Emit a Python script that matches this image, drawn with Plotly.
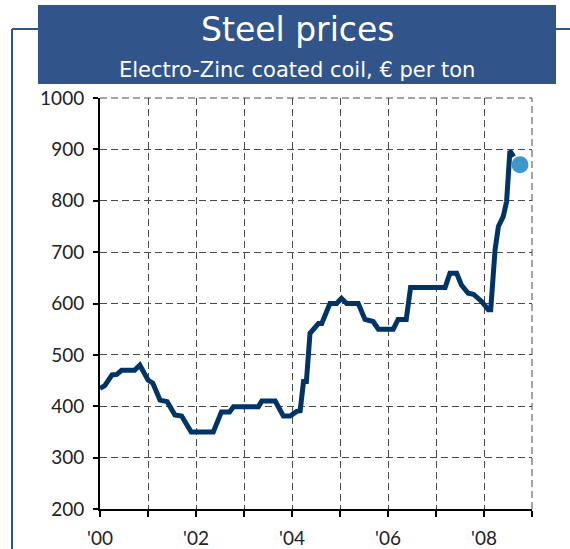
import plotly.graph_objects as go

# Electro-zinc coated coil price, EUR per ton (decimal year, price)
years = [2000.00, 2000.10, 2000.25, 2000.35, 2000.45, 2000.72, 2000.83, 2001.00,
         2001.10, 2001.25, 2001.40, 2001.56, 2001.70, 2001.90, 2002.36, 2002.53,
         2002.70, 2002.78, 2003.30, 2003.37, 2003.65, 2003.82, 2003.96, 2004.10,
         2004.17, 2004.24, 2004.30, 2004.375, 2004.55, 2004.62, 2004.79, 2004.93,
         2005.03, 2005.14, 2005.38, 2005.52, 2005.69, 2005.80, 2006.11, 2006.21,
         2006.38, 2006.47, 2007.19, 2007.29, 2007.43, 2007.53, 2007.67, 2007.78,
         2007.95, 2008.09, 2008.14, 2008.23, 2008.30, 2008.40, 2008.47, 2008.54,
         2008.62]
prices = [435, 440, 461, 462, 470, 470, 480, 451,
          445, 412, 409, 383, 381, 350, 350, 389,
          389, 399, 399, 410, 410, 381, 381, 390,
          391, 448, 448, 542, 561, 561, 600, 600,
          610, 600, 600, 569, 565, 550, 550, 569,
          569, 631, 631, 659, 659, 636, 620, 618,
          604, 588, 588, 704, 750, 769, 798, 897,
          886]

# Latest quoted price
latest_year = [2008.75]
latest_price = [870]

tick_years = list(range(2000, 2010))
tick_labels = ["'00", "", "'02", "", "'04", "", "'06", "", "'08", ""]
price_ticks = [200, 300, 400, 500, 600, 700, 800, 900, 1000]

NAVY = "#003466"
BANNER = "#31548A"
DOT = "#3D97C8"
GRID = "#4A4A4A"

fig = go.Figure()
fig.add_trace(go.Scatter(x=years, y=prices, mode="lines",
                         line=dict(color=NAVY, width=5), hoverinfo="skip"))
fig.add_trace(go.Scatter(x=latest_year, y=latest_price, mode="markers",
                         marker=dict(color=DOT, size=17), hoverinfo="skip"))

# plot area in pixels
L, R, T, B = 100, 532, 98, 509
W, H = R - L, B - T


def px(x):
    return (x - L) / W


def py(y):
    return (B - y) / H


shapes = [
    # title banner
    dict(type="rect", xref="paper", yref="paper", x0=px(38), x1=px(556),
         y0=py(84), y1=py(5), fillcolor=BANNER, line=dict(width=0), layer="below"),
    # frame lines
    dict(type="line", xref="paper", yref="paper", x0=px(12), x1=px(12),
         y0=py(29), y1=py(570), line=dict(color=BANNER, width=2)),
    dict(type="line", xref="paper", yref="paper", x0=px(12), x1=px(38),
         y0=py(29), y1=py(29), line=dict(color=BANNER, width=2)),
    dict(type="line", xref="paper", yref="paper", x0=px(556), x1=px(575),
         y0=py(29), y1=py(29), line=dict(color=BANNER, width=2)),
    # top and right grid lines
    dict(type="line", xref="paper", yref="paper", x0=0, x1=1, y0=1, y1=1,
         line=dict(color=GRID, width=1, dash="7px,4px"), layer="below"),
    dict(type="line", xref="paper", yref="paper", x0=1, x1=1, y0=0, y1=1,
         line=dict(color=GRID, width=1, dash="7px,4px"), layer="below"),
]

annotations = [
    dict(text="Steel prices", xref="paper", yref="paper", x=px(297), y=py(29),
         xanchor="center", yanchor="middle", showarrow=False,
         font=dict(family="DejaVu Sans", size=33, color="white")),
    dict(text="Electro-Zinc coated coil, € per ton", xref="paper", yref="paper",
         x=px(297), y=py(70), xanchor="center", yanchor="middle", showarrow=False,
         font=dict(family="DejaVu Sans", size=21, color="white")),
]

fig.update_layout(
    width=570, height=549,
    margin=dict(l=L, r=570 - R, t=T, b=549 - B, pad=0),
    paper_bgcolor="white", plot_bgcolor="white",
    showlegend=False, hovermode=False,
    shapes=shapes, annotations=annotations,
    xaxis=dict(range=[2000, 2009], tickvals=tick_years, ticktext=tick_labels,
               showgrid=True, gridcolor=GRID, gridwidth=1, griddash="7px,4px",
               showline=True, linecolor="black", linewidth=2,
               ticks="outside", ticklen=6, tickwidth=2, tickcolor="black",
               ticklabelstandoff=5,
               tickfont=dict(family="Lato", size=19, color="#222222"),
               zeroline=False, fixedrange=True, automargin=False),
    yaxis=dict(range=[200, 1000], tickvals=price_ticks,
               showgrid=True, gridcolor=GRID, gridwidth=1, griddash="7px,4px",
               showline=True, linecolor="black", linewidth=2,
               ticks="outside", ticklen=5, tickwidth=2, tickcolor="black",
               ticklabelstandoff=5,
               tickfont=dict(family="Lato", size=19, color="#222222"),
               zeroline=False, fixedrange=True, automargin=False),
)

fig.write_html("out.html", config={"displayModeBar": False})
